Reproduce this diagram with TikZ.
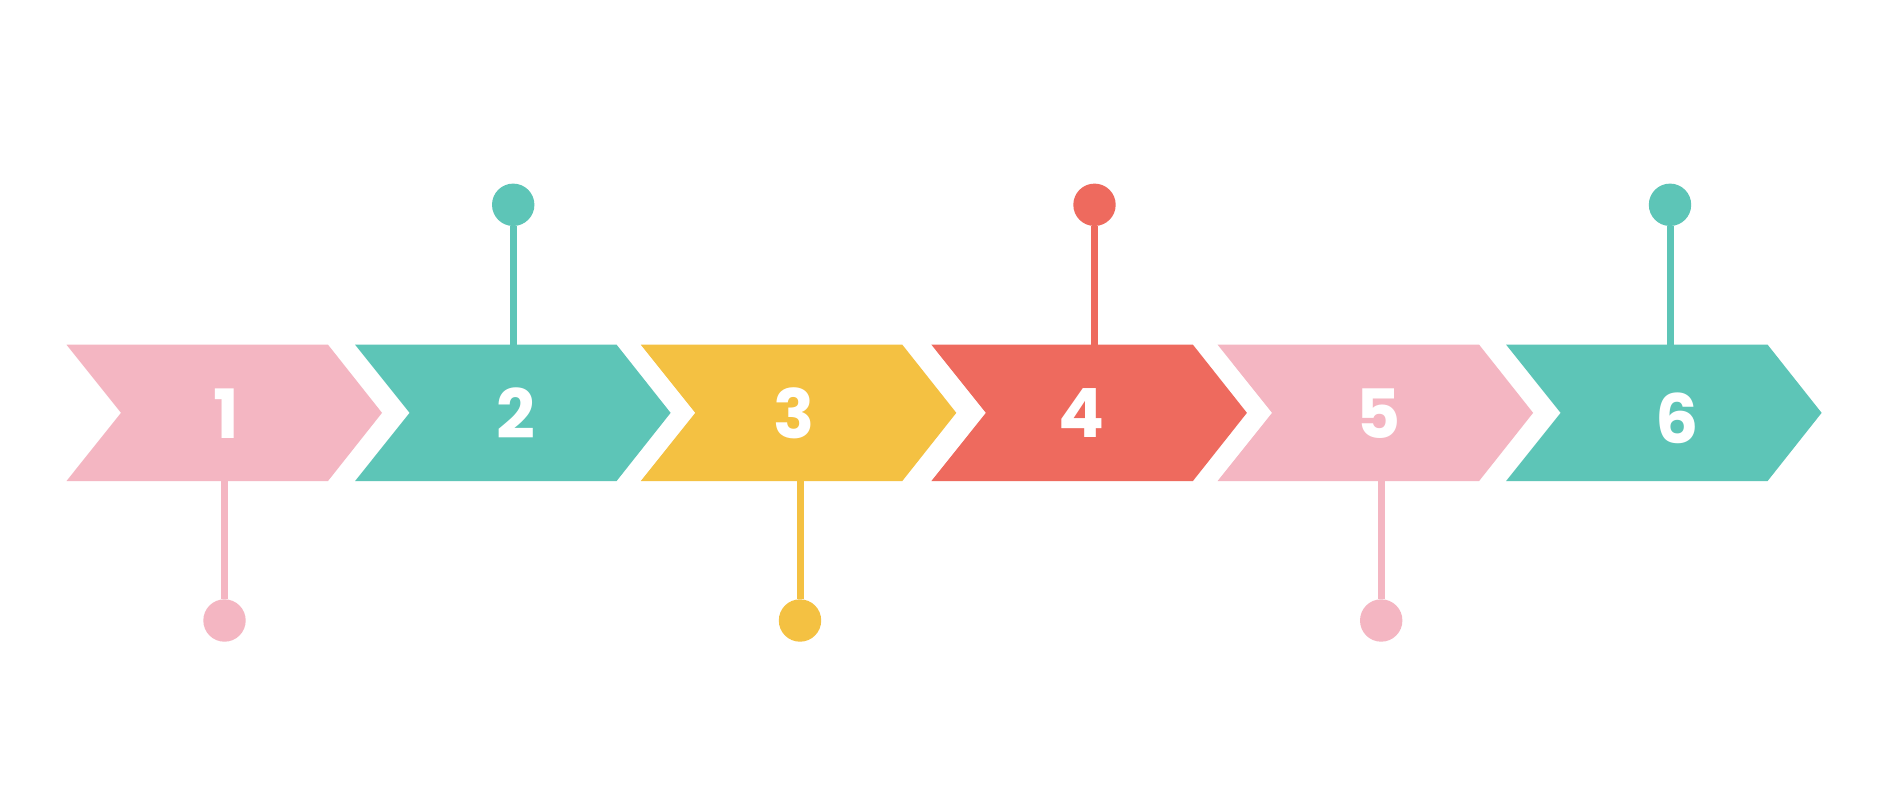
\documentclass[tikz,border=0pt]{standalone}
\usepackage{fontspec}
\setmainfont{Poppins}
\definecolor{cpink}{HTML}{F4B6C2}
\definecolor{cteal}{HTML}{5DC5B7}
\definecolor{cyellow}{HTML}{F4C142}
\definecolor{ccoral}{HTML}{EE6A5E}
\tikzset{
  digit/.style={text=white, inner sep=0pt, font=\bfseries\fontsize{68}{68}\selectfont},
  dot/.style={circle, fill=#1, minimum size=42.4pt, inner sep=0pt},
  stem/.style={draw=#1, line width=7pt}
}
\begin{document}
\begin{tikzpicture}[x=1pt,y=-1pt]
\useasboundingbox (0,0) rectangle (1879,794);
\fill[white] (0,0) rectangle (1879,794);
% chevrons
\foreach \L/\c in {66.5/cpink,355.1/cteal,640.8/cyellow,931.4/ccoral,1217.6/cpink,1506.1/cteal}{
  \fill[\c] (\L,344.7) -- ++(261.5,0) -- ++(54,68.15) -- ++(-54,68.15) -- ++(-261.5,0) -- ++(54.5,-68.15) -- cycle;
}
% numbers
\node[digit] (n1) at (226.7,413.4) {1};
\node[digit] (n2) at (515.5,413.4) {2};
\node[digit] (n3) at (794.0,413.4) {3};
\node[digit] (n4) at (1081.9,413.4) {4};
\node[digit] (n5) at (1378.4,413.4) {5};
\node[digit] (n6) at (1677.1,418.3) {6};
% top markers
\node[dot=cteal] (d2) at (513.2,204.8) {};
\node[dot=ccoral] (d4) at (1094.5,204.8) {};
\node[dot=cteal] (d6) at (1670.0,204.8) {};
\coordinate (s2) at (513.2,346);
\coordinate (s4) at (1094.5,346);
\coordinate (s6) at (1670.0,346);
\draw[stem=cteal] (d2) -- (s2);
\draw[stem=ccoral] (d4) -- (s4);
\draw[stem=cteal] (d6) -- (s6);
% bottom markers
\node[dot=cpink] (d1) at (224.5,620.5) {};
\node[dot=cyellow] (d3) at (800.0,620.5) {};
\node[dot=cpink] (d5) at (1381.2,620.5) {};
\coordinate (s1) at (224.5,479.5);
\coordinate (s3) at (800.0,479.5);
\coordinate (s5) at (1381.2,479.5);
\draw[stem=cpink] (s1) -- (d1);
\draw[stem=cyellow] (s3) -- (d3);
\draw[stem=cpink] (s5) -- (d5);
\end{tikzpicture}
\end{document}
